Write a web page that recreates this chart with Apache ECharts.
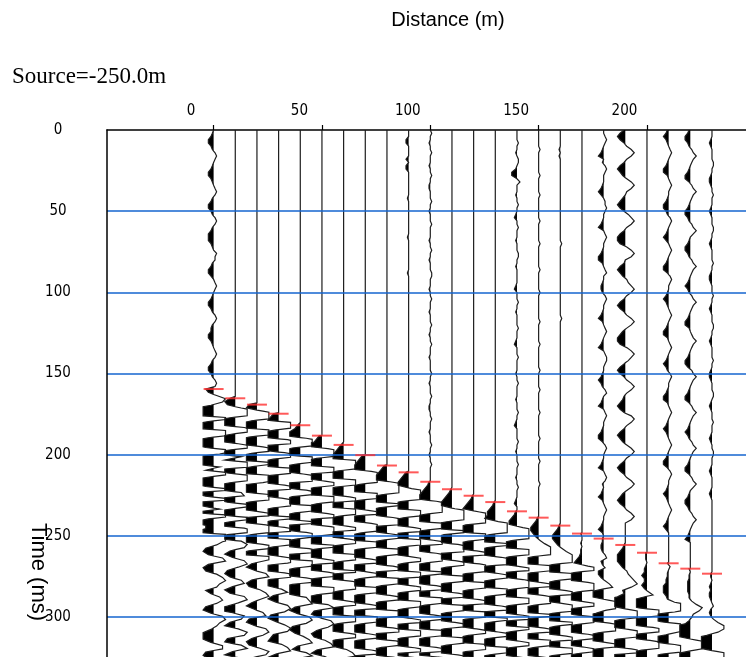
<!DOCTYPE html>
<html><head><meta charset="utf-8">
<script src="https://cdn.jsdelivr.net/npm/echarts@6/dist/echarts.min.js"></script>
<style>html,body{margin:0;padding:0;background:#fff}#c{width:746px;height:657px}</style>
</head><body><div id="c"></div><script>
// ---- data ----
const traceDistance = [0,10,20,30,40,50,60,70,80,90,100,110,120,130,140,150,160,170,180,190,200,210,220,230];
const pickTime = [159.5,165.2,169.1,174.7,181.8,188.2,193.9,200.2,206.6,210.8,216.6,221.2,225.2,229.1,234.8,238.7,243.6,248.5,251.6,255.5,260.3,266.8,270.1,273.2];
const distanceTicks = [0,50,100,150,200];
const timeTicks = [0,50,100,150,200,250,300];
const SAMPLE_MS = 2;
// amplitude code book (fraction of clip; negative = left, black-filled)
const ampCode = {'.':0,'Z':-0.12,'A':-0.25,'B':-0.5,'C':-0.75,'D':-1,'E':-2,'F':-3,'z':0.12,'a':0.25,'b':0.5,'c':0.75,'d':1,'e':2,'f':3};
// samples before the first break, from 0 ms, one per 2 ms
const noiseTraces = [
".ZABBAZzaz.ZABBAZ.zazZABBAZzazZABBBAZ.azzZABBA.zaz.ZABBAZzazZAABBAZ.zazZABBAZzaz",
"","","","","","","","",
"...AA....A.AA........Z...........Z..........Z",
".z..Z..z...Z..z..ZZ...z..Z...z....Z..z..Z...zz...Z..z...Z...z..Z..z...Z....z..Z...z..ZZ..z...Z...z..Z..z",
"","","",
"....z..Z.zz.ZBB.a...Z..z..ZA..z...Z...zz..Z.....ZA...z..Z....z...ZA...z....Z..z....Z...z..ZA....z..Z...z...Z..z...ZA..z....Z",
"......z.......z.....z.......z......z.......z......z........z......z.......z.....z......z.......z......z......z....",
"......Z.Z..........................z......................z...................",
"",
"..zaz.ZAB.Zzaz...ZABA.zzaz..ZAB.zaz..ZABBZ.za..ZAAZzaz..ZABZ.zaz.ZAB.zaaz..ZABAZza.ZAB.zaz..ZABBZzaz..ZAB.zazZ.ZABZ.zaz..ZABZ.za",
"ZBCBZzbcbzZBCBAzbcbz.ABCBZabcbzZBCCBzbcb.ZBCBAzabcbzZBCBZzbcbzABCCBzbcbaZBCBZzbcbzZABCBZbcbzZBCBAzbcbzZBCBZzbcbzABCBZzbcb",
"",
"ZABAZ.zaz.ZABBZ.zaz..ZABBAZzaz.ZABA.zaz.ZABBZzaz..ZABAZ.zaz.ZABBZ.zaz.ZABAZzaz..ZABBZ.zaz.ZABAZ.zaz.ZABBZzaz..ZABAZ.zaz.ZABA",
"ZABBAZzabaz.ZABBZzabaz.ZABBAZzaba.ZABBAZzabaz.ZABAZzabaz.ZABBZ.zabaz.ZABBAzabaz.ZABBZzabaz.ZABAZzabaz.ZABBZzaba.ZABBAZzabaz.ZAB",
"...ZAZ....zz..ZAAZ..z...ZAZ...zz..ZAZ....z..ZAAZ...z..ZAZ...zz..ZAZ....z..ZAAZ...zz.ZAZ...z...ZAZ..zz...ZAZ....ZAZ..."
];
// samples from the first break on, one per 2 ms
const signalTraces = [
"CBadcAEEEeBEEeeBEECebEEEbCeAEECeECeEDbEeBECCEeecaCDBcdBDCacdbaCAbcaCDAcdbaADEDAccCDBcd",
"BDCbeeBEEceAEEaeCEbDeeECeeBEEbcECeAEDeBEceCEbdcBDAcdaCDBbcADBcdaCEAcbBDadcCDbdADbcC",
"CDbeeBEEeeCEEbeBEEeAEEeebEEDeeCEEaeEEceeBEEbeCEecBDAcdBDCacdaBDAbcCDAcdbBDCadcBDAcbdC",
"BCDeeAEEceEEbeBEEeeCEEbeEEaeeBEEeCEbeEEeeBEEaecEEbeCEDacBDAcdbCDAbdcBCDacdADbcC",
"ABDEbeeCEEeeBEEaeeEEbeCEEeeBEDeEEbeAEEceEEeeBEEbeCEEDbcdBDAcdbCDBacdACbdBcA",
"ABCEbeeBEEeeEEaeCEEeeBEEbeEEceeBEEeCEEaeEEbeCEEeeBEEbdCDAcdbBDCacdBDacBd",
"ABCDEeeeBEEeeCEEbeEEeeBEEaeEEbeCEEeeBEEeEEceeBEEaeCEEeeBEEbeCEDacdBDa",
"ABCDEbeeeBEEeeCEEaeEEbeeBEEeeCEEbeEEaeBEEeeCEEbeEEeeBEEaeCEEbeEEceB",
"ABCDEaeeeBEEeCEEbeeEEaeBEEeeCEEbeEEeeBEEaeCEEeeBEEbeEEceBEEbeC",
"ABCDDaeeeCEEeeBEEbeEEeeCEEaeBEEeeEEbeCEEeeBEEaeEEeeCEEbeEbc",
"ZABCDEbeeeBEEeeCEEaeEEbeeBEEeCEEbeEEeeBEEaeCEEeeBEEbeEcBE",
"ZABCDDaeeeBEEeCEEbeeEEaeBEEeeCEEbeEEeeBEEaeCEEeeBEEbeC",
"ZABCDbeeeCEEeeBEEaeEEbeeCEEeeBEEbeEEeeCEEaeBEEeeCEbE",
"ZABCCDaeeeBEEeCEEbeeEEaeBEEeeCEEbeEEeBEEaeCEEeeBEb",
"ZABCCbeeeBEEeeCEEaeEEbeeBEEeeCEEbeEEeBEEaeCEEbe",
"ZABCCBAzbdeeBEEeeCEEaeEEbeeBEEeCEEbeEEeeBEEbe",
"ZABCCBAzbdeeCEEeeBEEbeEEaeeCEEeBEEbeEEeeCEb",
"Z..Z.ZZABCbeCEEbeeBEEaeCECeeBEEbeCEaeBEEb",
"ZZAAZzaAZzBBAzbcCEDbeeaCEEbeeBEEaeCEEbe",
"ZABCCCBAzabcdbAZCEEDbeeBEEaeeCEEbeEEa",
"ZZZ.ZAABAABAzbCEECeeBEEbeCEaeeBEEbe",
"Zz.ZZAABBBAZbeebEECeedAEEbeeCEEb",
"Z.ZZAAAAZZzbdcazZBEEEDbeebDEEb",
"ZZ.ZAZAAZ.zZAZzbddbBEEEDbeeb"
];

// ---- rendering ----
const CLIP_L = 4.85, CLIP_R = 5.5; // clip widths in metres
function samplesFor(i){
  const out = [];
  const pk = pickTime[i], ns = noiseTraces[i], sg = signalTraces[i];
  for (let j = 0; j * SAMPLE_MS < pk; j++) out.push([j * SAMPLE_MS, ampCode[ns[j]] || 0]);
  for (let j = 0; j < sg.length; j++) out.push([pk + j * SAMPLE_MS, ampCode[sg[j]] || 0]);
  return out;
}
function densify(s){
  const out = [s[0]];
  for (let k = 1; k < s.length; k++){
    const t0 = s[k-1][0], a0 = s[k-1][1], t1 = s[k][0], a1 = s[k][1];
    const cuts = [];
    [-1, 0, 1].forEach(c => { if ((a0 - c) * (a1 - c) < 0) cuts.push(t0 + (c - a0) / (a1 - a0) * (t1 - t0)); });
    cuts.sort((p, q) => p - q);
    cuts.forEach(tc => out.push([tc, a0 + (a1 - a0) * (tc - t0) / (t1 - t0)]));
    out.push(s[k]);
  }
  return out.map(p => [p[0], Math.max(-1, Math.min(1, p[1]))]);
}
function renderTrace(params, api){
  const x0 = api.value(0), i = api.value(2);
  const pts = densify(samplesFor(i));
  const line = [], fill = [api.coord([x0, pts[0][0]])];
  pts.forEach(p => {
    const a = p[1];
    const off = a < 0 ? a * CLIP_L : a * CLIP_R;
    line.push(api.coord([x0 + off, p[0]]));
    fill.push(api.coord([x0 + Math.min(a, 0) * CLIP_L, p[0]]));
  });
  fill.push(api.coord([x0, pts[pts.length-1][0]]));
  return {type:'group', children:[
    {type:'polygon', shape:{points:fill}, style:{fill:'#000', stroke:null}},
    {type:'polyline', shape:{points:line}, style:{stroke:'#1e1e1e', lineWidth:1.2, fill:null}}
  ]};
}

const labelFont = "'Liberation Sans Narrow','DejaVu Sans Condensed','Liberation Sans',sans-serif";
const chart = echarts.init(document.getElementById('c'), null, {renderer:'canvas'});
chart.setOption({
  animation:false,
  backgroundColor:'#fff',
  grid:{left:107, top:130, right:0, bottom:0, containLabel:false},
  graphic:[
    {type:'text', x:448, y:20, style:{text:'Distance (m)', fill:'#000', font:"20px 'Liberation Sans',sans-serif", align:'center', verticalAlign:'middle', textAlign:'center', textVerticalAlign:'middle'}},
    {type:'text', x:12, y:77, style:{text:'Source=-250.0m', fill:'#000', font:"23px 'Liberation Serif',serif", align:'left', verticalAlign:'middle', textAlign:'left', textVerticalAlign:'middle'}},
    {type:'text', x:38, y:572, rotation:-Math.PI/2, style:{text:'Time (ms)', fill:'#000', font:"22px 'Liberation Sans',sans-serif", align:'center', verticalAlign:'middle', textAlign:'center', textVerticalAlign:'middle'}}
  ],
  xAxis:{
    type:'value', position:'top', min:-49.2, max:245.7,
    axisLine:{show:true, onZero:false, lineStyle:{color:'#000', width:1.5}},
    axisTick:{show:true, inside:false, length:5, customValues:distanceTicks, lineStyle:{color:'#000', width:1.2}},
    axisLabel:{show:true, customValues:distanceTicks, margin:11, padding:[0,45,0,0], color:'#000', fontSize:15, fontFamily:labelFont},
    splitLine:{show:false}
  },
  yAxis:{
    type:'value', inverse:true, min:0, max:324.5, interval:50, z:4,
    axisLine:{show:true, onZero:false, lineStyle:{color:'#000', width:1.5}},
    axisTick:{show:false},
    axisLabel:{show:true, customValues:timeTicks, align:'center', margin:49, color:'#000', fontSize:15, fontFamily:labelFont},
    splitLine:{show:true, showMinLine:false, showMaxLine:false, lineStyle:{color:'#1565cf', width:1.6}}
  },
  series:[
    {type:'custom', coordinateSystem:'cartesian2d', clip:true, z:2,
     data: traceDistance.map((d, i) => [d, pickTime[i], i]),
     encode:{x:0, y:1}, renderItem: renderTrace},
    {type:'scatter', z:6, symbol:'rect', symbolSize:[20,2], itemStyle:{color:'#ff3030'},
     data: traceDistance.map((d, i) => [d, pickTime[i]])}
  ]
});
</script></body></html>
